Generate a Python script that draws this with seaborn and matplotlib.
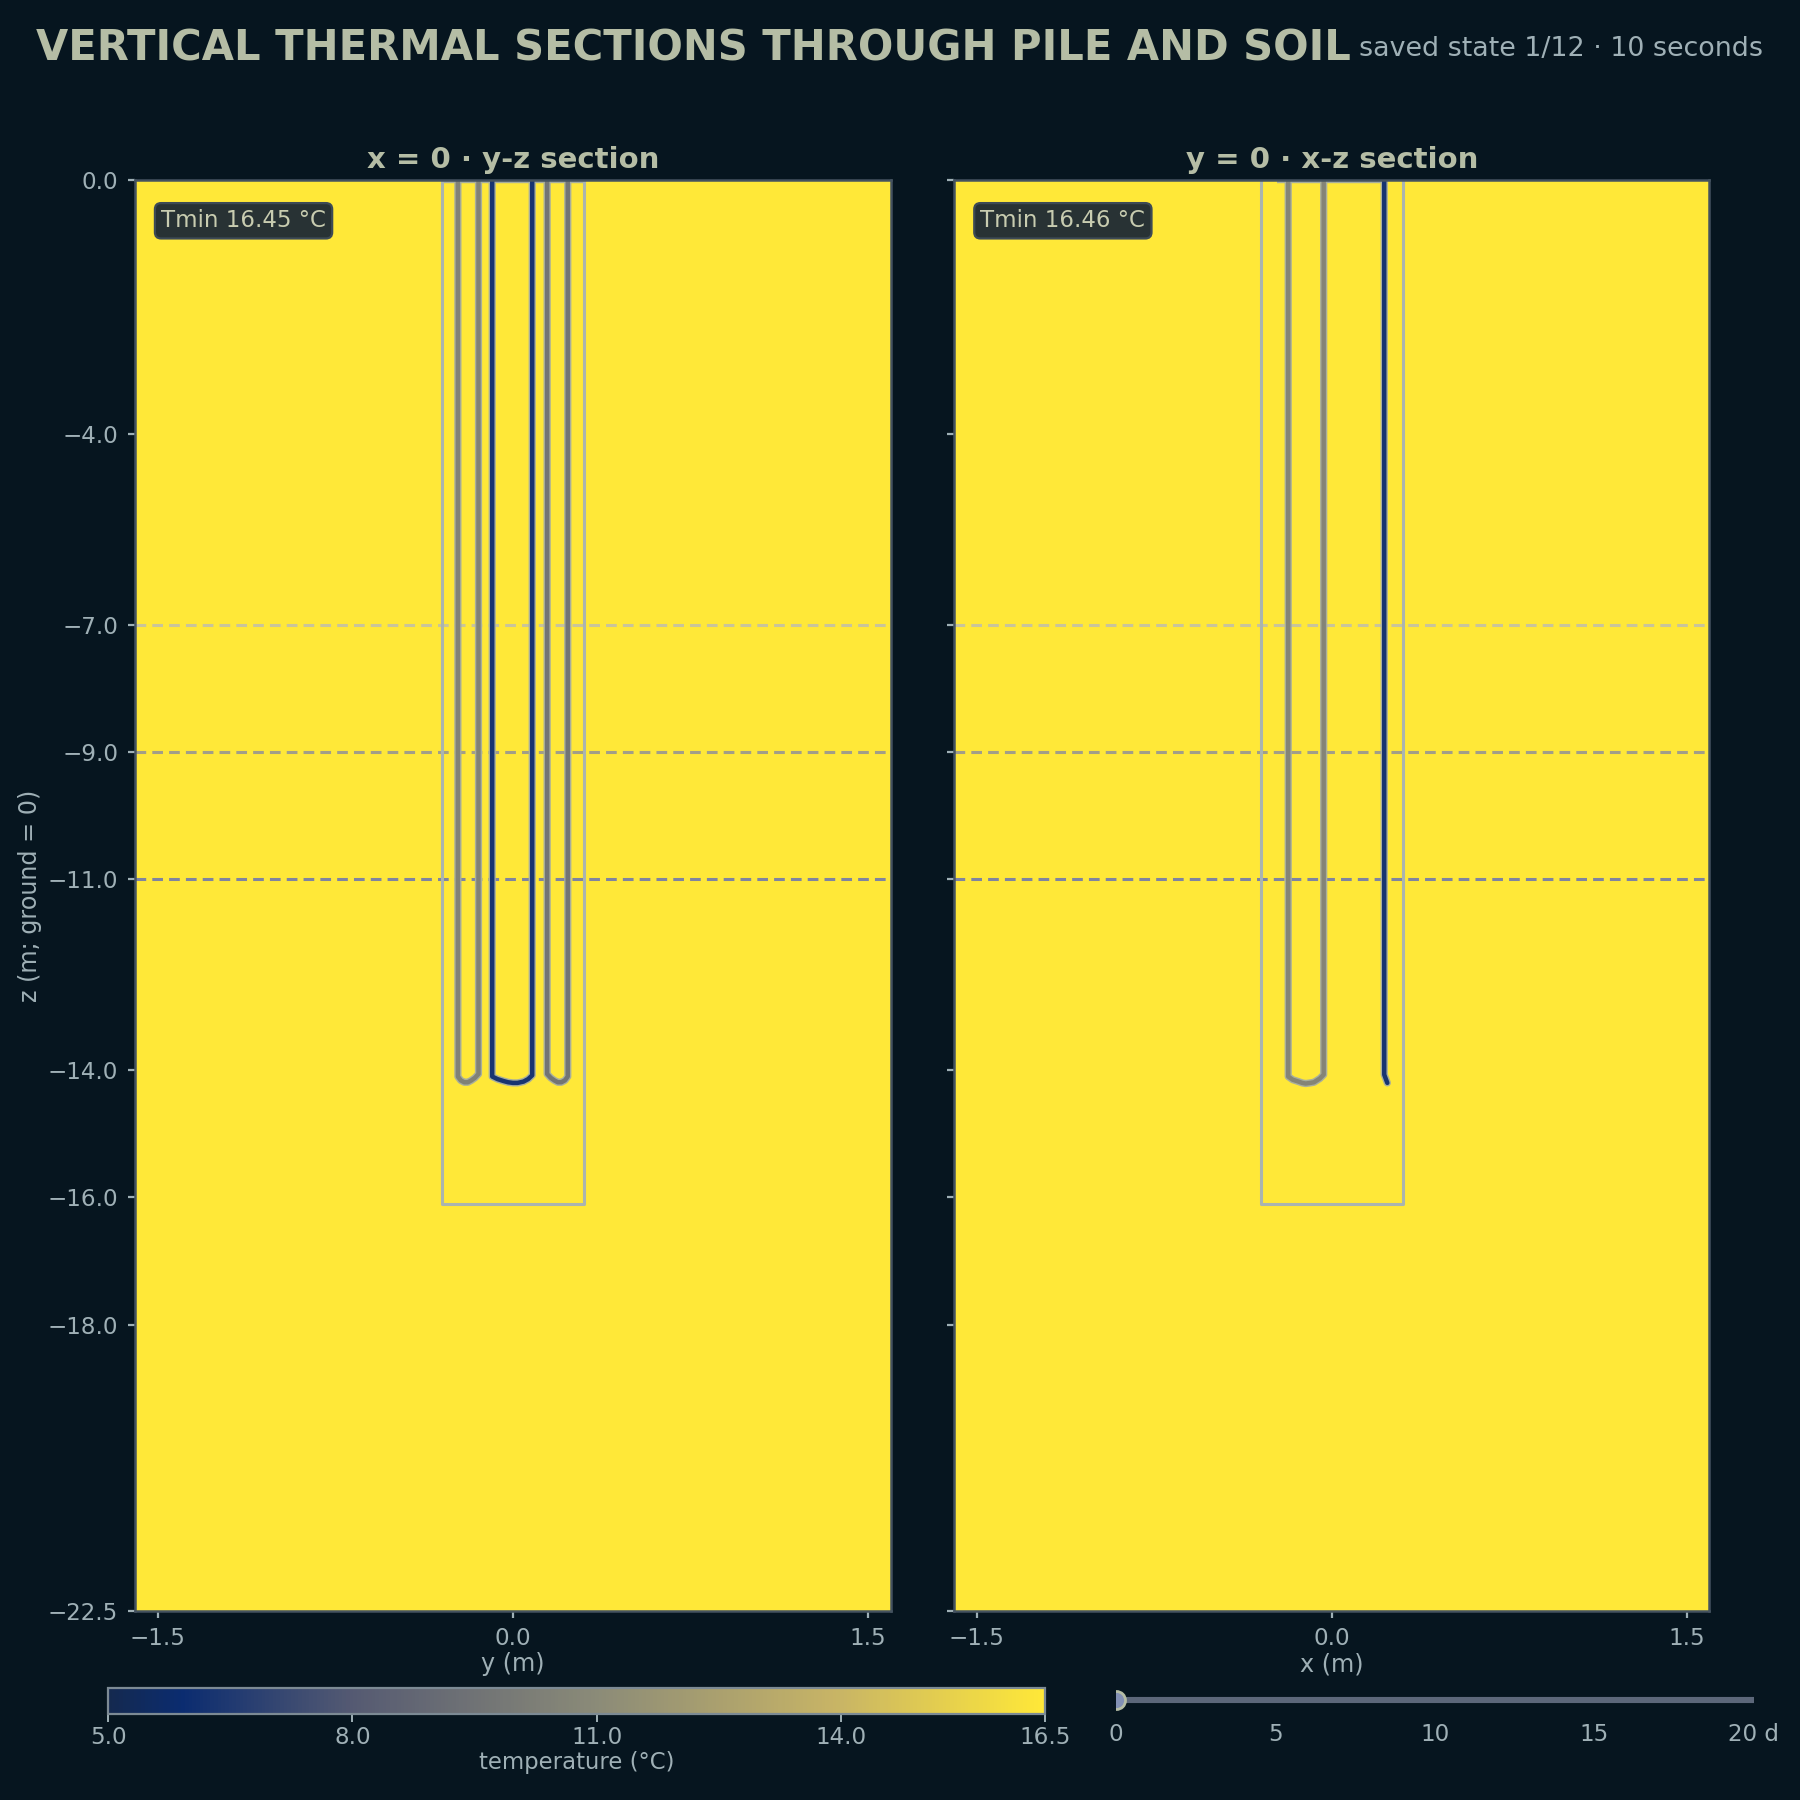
import matplotlib
matplotlib.use('Agg')
from matplotlib import pyplot as plt
from matplotlib.colors import LinearSegmentedColormap
from matplotlib.transforms import Affine2D
import numpy as np
import seaborn as sns

# colorbar colours
temp_stops = [5.0, 5.9, 8.0, 11.0, 14.0, 16.5]
temp_colors = ['#14294f', '#0b2c70', '#555a72', '#8b8b78', '#c9b565', '#ffe838']
cbar_ticks = [5.0, 8.0, 11.0, 14.0, 16.5]

z_ticks = [0.0, -4.0, -7.0, -9.0, -11.0, -14.0, -16.0, -18.0, -22.5]
h_ticks = [-1.5, 0.0, 1.5]
h_half = 1.597
z_bottom = -22.5

# soil temperature, coarse blocks (nearly uniform at this saved state)
soil_left = [[16.50, 16.50, 16.49, 16.49, 16.50, 16.50],
             [16.50, 16.49, 16.48, 16.48, 16.49, 16.50],
             [16.50, 16.49, 16.48, 16.48, 16.49, 16.50],
             [16.50, 16.50, 16.49, 16.49, 16.50, 16.50]]
soil_right = [[16.50, 16.50, 16.49, 16.49, 16.50, 16.50],
              [16.50, 16.49, 16.48, 16.48, 16.49, 16.50],
              [16.50, 16.49, 16.48, 16.48, 16.49, 16.50],
              [16.50, 16.50, 16.49, 16.49, 16.50, 16.50]]

pile_x = [-0.30, -0.30, 0.30, 0.30]
pile_z = [0.0, -16.1, -16.1, 0.0]

# pipe legs, y-z section
left_pipes = [
    ([-0.232, -0.232, -0.22, -0.205, -0.19, -0.175, -0.16, -0.145, -0.145],
     [0.0, -14.10, -14.16, -14.19, -14.19, -14.16, -14.12, -14.06, 0.0], 10.4),
    ([-0.087, -0.087, -0.065, -0.04, -0.02, 0.0, 0.02, 0.045, 0.065, 0.082, 0.082],
     [0.0, -14.10, -14.14, -14.17, -14.19, -14.20, -14.20, -14.18, -14.14, -14.08, 0.0], 6.3),
    ([0.145, 0.145, 0.16, 0.175, 0.19, 0.205, 0.22, 0.232, 0.232],
     [0.0, -14.06, -14.12, -14.16, -14.19, -14.19, -14.16, -14.10, 0.0], 9.6),
]
# pipe legs, x-z section
right_pipes = [
    ([-0.184, -0.184, -0.165, -0.14, -0.125, -0.11, -0.09, -0.075, -0.05, -0.034, -0.034],
     [0.0, -14.10, -14.15, -14.18, -14.20, -14.21, -14.20, -14.19, -14.13, -14.07, 0.0], 10.6),
    ([0.222, 0.222, 0.235], [0.0, -14.07, -14.20], 6.3),
]
left_top = ([-0.30, 0.30], [-0.02, -0.02])
right_top = ([-0.232, 0.222], [-0.02, -0.02])

slices = [-7.0, -9.0, -11.0]
slice_colors = ['#c9c49a', '#a29e88', '#7f84a0']

slider_ticks = [0, 5, 10, 15, 20]
slider_labels = ['0', '5', '10', '15', '20 d']
state_day = 0.0

BG = '#06151f'
TXT = '#9fb0b6'
HEAD = '#b5bda5'
EDGE = '#44525f'

sns.set_theme(style='dark', rc={
    'figure.facecolor': BG, 'axes.facecolor': BG, 'savefig.facecolor': BG,
    'text.color': TXT, 'axes.labelcolor': TXT, 'xtick.color': TXT, 'ytick.color': TXT,
    'axes.edgecolor': EDGE, 'xtick.bottom': True, 'ytick.left': True,
})
plt.rcParams['font.family'] = ['DejaVu Sans']

cmap = LinearSegmentedColormap.from_list(
    'pile', [((t - 5.0) / 11.5, c) for t, c in zip(temp_stops, temp_colors)])


def panel(ax, soil, pipes, top_line, title, xlabel, tmin):
    soil = np.array(soil)
    nrow, ncol = soil.shape
    sns.heatmap(soil, ax=ax, cmap=cmap, vmin=5.0, vmax=16.5, cbar=False,
                xticklabels=False, yticklabels=False)
    # put the heatmap cells on the real metre scale
    mesh = ax.collections[0]
    mesh.set_transform(Affine2D().scale(2 * h_half / ncol, z_bottom / nrow)
                       .translate(-h_half, 0) + ax.transData)
    ax.set_xlim(-h_half, h_half)
    ax.set_ylim(z_bottom, 0)

    for z, c in zip(slices, slice_colors):
        ax.axhline(z, color=c, lw=1.1, ls=(0, (3.5, 2)))

    ax.plot(top_line[0], top_line[1], color='#a8ae9c', lw=1.6, solid_capstyle='butt')
    for xs, zs, temp in pipes:
        ax.plot(xs, zs, color='#a8ae9c', lw=2.6, solid_joinstyle='round')
        ax.plot(xs, zs, color=cmap((temp - 5.0) / 11.5), lw=1.6, solid_joinstyle='round')
    ax.plot(pile_x, pile_z, color='#aab4b0', lw=1.1)

    ax.set_title(title, color=HEAD, fontsize=10.5, fontweight='bold', pad=4.3)
    ax.set_xlabel(xlabel, fontsize=8.6, labelpad=0.8)
    ax.set_xticks(h_ticks)
    ax.set_xticklabels([f'{v:.1f}'.replace('-', '\u2212') for v in h_ticks], fontsize=8.3)
    ax.set_yticks(z_ticks)
    ax.tick_params(length=2.5, width=0.8, color=TXT, pad=3.4)
    for s in ax.spines.values():
        s.set_visible(True)
        s.set_color(EDGE)
        s.set_linewidth(0.9)
    ax.text(0.035, 0.9715, f'Tmin {tmin:.2f} \u00b0C', transform=ax.transAxes, fontsize=8.25,
            color='#c8ccb0', va='center', ha='left',
            bbox=dict(boxstyle='round,pad=0.27', fc='#283234', ec='#3d4a55', lw=0.8))


fig = plt.figure(figsize=(9, 9), dpi=200)
ax_l = fig.add_axes([0.0748, 0.1052, 0.4202, 0.7948])
ax_r = fig.add_axes([0.53, 0.1052, 0.4197, 0.7948])
panel(ax_l, soil_left, left_pipes, left_top, 'x = 0 \u00b7 y-z section', 'y (m)', 16.45)
panel(ax_r, soil_right, right_pipes, right_top, 'y = 0 \u00b7 x-z section', 'x (m)', 16.46)

ax_l.set_yticklabels([f'{v:.1f}'.replace('-', '\u2212') for v in z_ticks], fontsize=8.3, rotation=0)
ax_l.set_ylabel('z (m; ground = 0)', fontsize=8.6)
ax_l.yaxis.set_label_coords(-0.122, 0.5)
ax_r.set_yticklabels([])

fig.text(0.02, 0.9728, 'VERTICAL THERMAL SECTIONS THROUGH PILE AND SOIL', color=HEAD,
         fontsize=15, fontweight='bold', va='center', ha='left')
fig.text(0.9795, 0.9729, 'saved state 1/12 \u00b7 10 seconds', color=TXT, fontsize=9.7,
         va='center', ha='right')

cax = fig.add_axes([0.06, 0.0478, 0.5206, 0.0146])
cb = fig.colorbar(ax_l.collections[0], cax=cax, orientation='horizontal')
cb.set_ticks(cbar_ticks)
cb.set_ticklabels([f'{v:.1f}' for v in cbar_ticks])
cb.ax.tick_params(labelsize=8.3, length=3, width=0.7, color=TXT, pad=1.2)
cb.outline.set_edgecolor('#7c8a94')
cb.outline.set_linewidth(0.8)
cb.set_label('temperature (\u00b0C)', fontsize=8.2, labelpad=1)

sax = fig.add_axes([0.62, 0.0472, 0.3544, 0.0167])
sax.set_xlim(0, 20)
sax.set_ylim(-1, 1)
sax.plot([0, 20], [0, 0], color='#5c677a', lw=2.2, solid_capstyle='butt')
sax.scatter([state_day], [0], s=42, color='#8290b4', edgecolor='#b5bda5', linewidth=1.0, zorder=3)
sax.set_yticks([])
sax.set_xticks(slider_ticks)
sax.set_xticklabels(slider_labels, fontsize=8.3)
sax.tick_params(axis='x', length=0, pad=3)
for s in sax.spines.values():
    s.set_visible(False)

fig.savefig('out.png', dpi=200)
